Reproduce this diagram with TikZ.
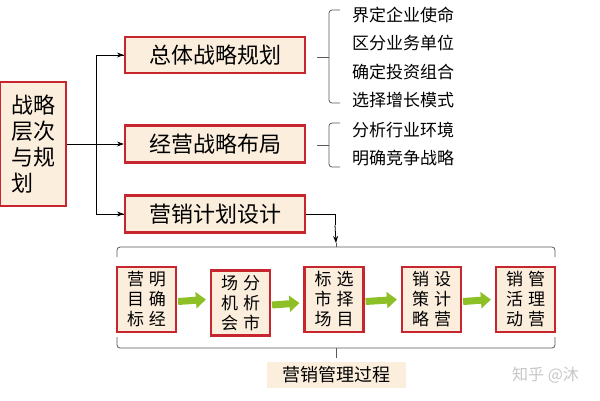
\documentclass[tikz,border=0pt]{standalone}
\usepackage{fontspec}
\setmainfont{Noto Sans CJK SC}
\usetikzlibrary{arrows.meta}
\definecolor{boxred}{HTML}{C8262E}
\definecolor{boxfill}{HTML}{FCEEDD}
\definecolor{flowgreen}{HTML}{8DC026}
\newcommand{\gp}{\hspace{5pt}}
\tikzset{
  planbox/.style={draw=boxred,line width=2.2pt,fill=boxfill,inner sep=0pt},
  stepbox/.style={planbox,minimum width=59pt,minimum height=65pt,font=\fontsize{17}{20}\selectfont,align=center},
  link/.style={-{Stealth[length=7pt,width=5pt]},line width=0.8pt},
  flow/.style={-{Triangle[length=10pt,width=16pt]},line width=7pt,flowgreen},
  bracket/.style={line width=0.8pt,gray!70!black,rounded corners=3pt},
  item/.style={anchor=west,font=\fontsize{17}{17}\selectfont,inner sep=0pt}
}
\begin{document}
\begin{tikzpicture}[x=1pt,y=-1pt]
	\useasboundingbox (0,0) rectangle (600,400);
	\node[planbox,minimum width=66pt,minimum height=124pt,align=left,font=\fontsize{22}{26}\selectfont] (lvl) at (33,144) {战略\\层次\\与规\\划};
	\node[planbox,minimum width=180pt,minimum height=36pt,font=\fontsize{22}{22}\selectfont] (whole) at (215,55) {总体战略规划};
	\node[planbox,minimum width=180pt,minimum height=37pt,font=\fontsize{22}{22}\selectfont] (biz) at (215,144) {经营战略布局};
	\node[planbox,minimum width=180pt,minimum height=37pt,font=\fontsize{22}{22}\selectfont] (mkt) at (215,214) {营销计划设计};
	\coordinate (fork) at (96,144);
	\draw[line width=0.8pt] (lvl.east) -- (fork);
	\draw[line width=0.8pt] (fork) |- (whole.west) (fork) |- (mkt.west);
	\draw[link] (fork |- whole.west) -- (whole.west);
	\draw[link] (fork) -- (biz.west);
	\draw[link] (fork |- mkt.west) -- (mkt.west);
	% right hand items
	\foreach \Name/\Y/\Text in {a/15/界定企业使命,b/43/区分业务单位,c/72/确定投资组合,d/100/选择增长模式,e/130/分析行业环境,f/158/明确竞争战略}
		\node[item] (\Name) at (352,\Y) {\Text};
	\draw[bracket] (340,10) -- (329,10) -- (329,103) -- (340,103);
	\draw[bracket] (329,57) -- (317,57);
	\draw[bracket] (340,123) -- (329,123) -- (329,167) -- (340,167);
	\draw[bracket] (329,145) -- (317,145);
	% marketing steps
	\foreach \Name/\X/\Y/\Text in {s1/146.5/299.5/营\gp 明\\目\gp 确\\标\gp 经,s2/240.5/303/场\gp 分\\机\gp 析\\会\gp 市,s3/334/299.5/标\gp 选\\市\gp 择\\场\gp 目,s4/431.5/299.5/销\gp 设\\策\gp 计\\略\gp 营,s5/525.5/299.5/销\gp 管\\活\gp 理\\动\gp 营}
		\node[stepbox] (\Name) at (\X,\Y) {\Text};
	\foreach \From/\To in {s1/s2,s2/s3,s3/s4,s4/s5}
		\draw[flow] ([xshift=1pt,yshift=-2pt]\From.east) -- ([xshift=-4pt]\From.east -| \To.west) ;
	\coordinate (top) at (336,243);
	\coordinate (bot) at (336,358);
	\draw[bracket] (117,257) -- (117,247) -- (555,247) -- (555,257);
	\draw[bracket] (top) -- (336,247);
	\draw[bracket] (117,337) -- (117,348) -- (555,348) -- (555,337);
	\draw[bracket] (bot) -- (336,348);
	\draw[line width=0.8pt] (mkt.east) -| (335,225);
	\draw[link] (335,225) -- (top);
	\node[fill=boxfill,minimum width=139pt,minimum height=26pt,inner sep=0pt,font=\fontsize{18}{18}\selectfont] (proc) at (336,375) {营销管理过程};
	\node[anchor=west,text=gray!45,font=\fontsize{16}{16}\selectfont,inner sep=0pt] (mark) at (512,375) {知乎 @沐};
\end{tikzpicture}
\end{document}
